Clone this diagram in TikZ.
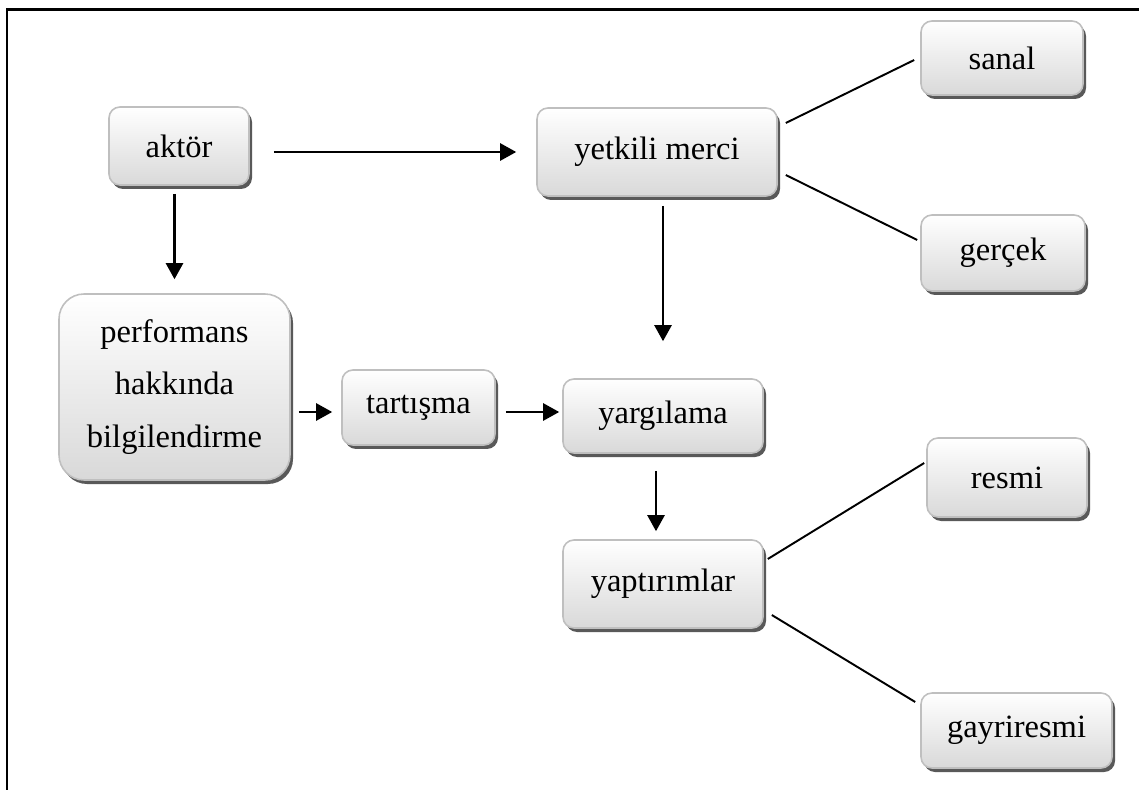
\documentclass[tikz,border=0pt]{standalone}
\usepackage{fontspec}
\setmainfont{Liberation Serif}
\usetikzlibrary{arrows.meta,shadows,calc}
\tikzset{
	kutu/.style={draw=black!25, line width=0.9pt, rounded corners=0.22cm,
		top color=white, bottom color=black!15,
		drop shadow={shadow xshift=0.06cm, shadow yshift=-0.08cm, fill=black!65, opacity=1},
		align=center, inner sep=0pt, font=\fontsize{18.5}{30}\selectfont},
	ok/.style={-{Triangle[length=0.32cm,width=0.34cm]}, line width=1.4pt},
	cizgi/.style={line width=1.1pt}
}
\begin{document}
\begin{tikzpicture}
	\useasboundingbox (0,0) rectangle (22.78,-15.8);
	\draw[line width=1.3pt] (0.14,-15.8)--(0.14,-0.19)--(22.78,-0.19);
	% kutular
	\node[kutu, minimum width=2.8cm, minimum height=1.56cm] (aktor) at (3.58,-2.92) {aktör};
	\node[kutu, minimum width=4.8cm, minimum height=1.76cm] (yetkili) at (13.14,-3.04) {yetkili merci};
	\node[kutu, minimum width=3.24cm, minimum height=1.48cm] (sanal) at (20.04,-1.16) {sanal};
	\node[kutu, minimum width=3.28cm, minimum height=1.52cm] (gercek) at (20.06,-5.06) {gerçek};
	\node[kutu, minimum width=4.62cm, minimum height=3.72cm, rounded corners=0.5cm] (performans) at (3.49,-7.74) {performans\\hakkında\\bilgilendirme};
	\node[kutu, minimum width=3.06cm, minimum height=1.5cm] (tartisma) at (8.37,-8.15) {tartışma};
	\node[kutu, minimum width=4cm, minimum height=1.48cm] (yargilama) at (13.26,-8.32) {yargılama};
	\node[kutu, minimum width=4cm, minimum height=1.76cm] (yaptirimlar) at (13.26,-11.68) {yaptırımlar};
	\node[kutu, minimum width=3.2cm, minimum height=1.58cm] (resmi) at (20.14,-9.55) {resmi};
	\node[kutu, minimum width=3.82cm, minimum height=1.5cm] (gayriresmi) at (20.33,-14.61) {gayriresmi};
	% oklar
	\draw[ok, shorten <=0.48cm, shorten >=0.4cm] (aktor.east |- yetkili.west)--(yetkili.west);
	\draw[ok, shorten <=0.16cm, shorten >=0.28cm] (performans.north |- aktor.south)--(performans.north);
	\draw[ok, shorten <=0.18cm, shorten >=0.74cm] (yargilama.north |- yetkili.south)--(yargilama.north);
	\draw[ok, shorten <=0.16cm, shorten >=0.18cm] ($(performans.east |- tartisma.west)+(0,-0.09)$)--($(tartisma.west)+(0,-0.09)$);
	\draw[ok, shorten <=0.2cm, shorten >=0.06cm] ($(tartisma.east)+(0,-0.09)$)--($(yargilama.west |- tartisma.west)+(0,-0.09)$);
	\draw[ok, shorten <=0.34cm, shorten >=0.16cm] ($(yargilama.south)+(-0.14,0)$)--($(yaptirimlar.north)+(-0.14,0)$);
	% cizgiler
	\draw[cizgi] ($(yetkili.east)+(0.16,0.58)$)--($(sanal.west)+(-0.12,-0.04)$);
	\draw[cizgi] ($(yetkili.east)+(0.16,-0.46)$)--($(gercek.west)+(-0.06,0.26)$);
	\draw[cizgi] ($(yaptirimlar.east)+(0.08,0.5)$)--($(resmi.west)+(-0.04,0.29)$);
	\draw[cizgi] ($(yaptirimlar.east)+(0.16,-0.62)$)--($(gayriresmi.west)+(-0.1,0.57)$);
\end{tikzpicture}
\end{document}
